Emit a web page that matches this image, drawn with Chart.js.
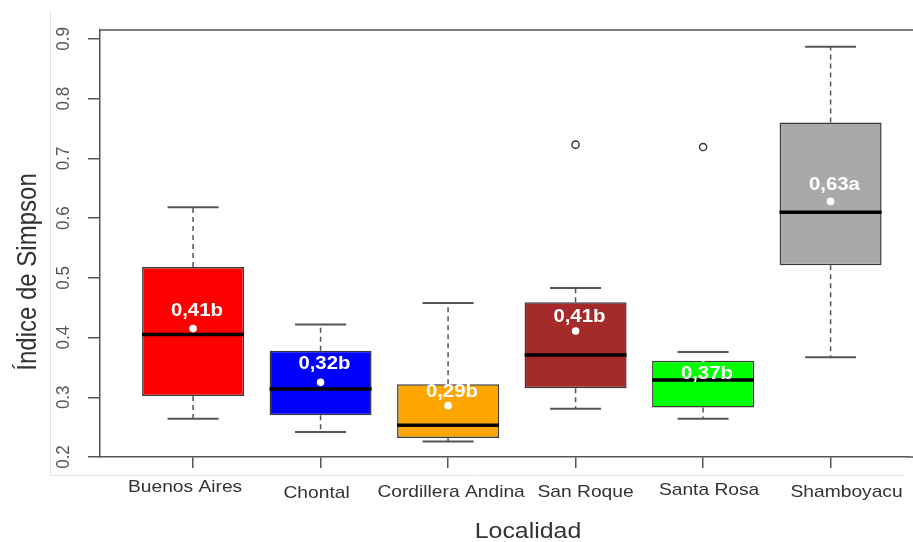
<!DOCTYPE html>
<html>
<head>
<meta charset="utf-8">
<title>Índice de Simpson por localidad</title>
<script src="https://cdn.jsdelivr.net/npm/chart.js@4/dist/chart.umd.min.js"></script>
<style>
  html, body { margin: 0; padding: 0; background: #fff; overflow: hidden; }
  #wrap { width: 913px; height: 542px; }
</style>
</head>
<body>
<div id="wrap"><canvas id="boxChart" width="913" height="542"></canvas></div>
<script>
// Categories (x axis)
const localidades = ['Buenos Aires', 'Chontal', 'Cordillera Andina', 'San Roque', 'Santa Rosa', 'Shamboyacu'];

// Box plot values
const lowerWhisker = [0.264, 0.242, 0.226, 0.281, 0.264, 0.367];
const q1           = [0.302, 0.270, 0.232, 0.315, 0.283, 0.521];
const medians      = [0.405, 0.314, 0.253, 0.371, 0.329, 0.610];
const q3           = [0.518, 0.378, 0.322, 0.459, 0.361, 0.760];
const upperWhisker = [0.618, 0.422, 0.458, 0.483, 0.376, 0.887];
const means        = [0.415, 0.325, 0.286, 0.411, 0.366, 0.628];

// Outliers (category number, value)
const outlierCat   = [4, 5];
const outlierValue = [0.723, 0.719];

// Mean labels and the level where each one sits
const meanLabels  = ['0,41b', '0,32b', '0,29b', '0,41b', '0,37b', '0,63a'];
const labelLevels = [0.444, 0.356, 0.308, 0.434, 0.339, 0.656];

const yTicks = [0.2, 0.3, 0.4, 0.5, 0.6, 0.7, 0.8, 0.9];

const boxColors = ['#ff0000', '#0000ff', '#ffa500', '#a52a2a', '#00ff00', '#a9a9a9'];

// build broken line data (a null y breaks the line)
function gap(x) { return { x: x, y: null }; }

const whiskerData = [];
const capData = [];
const medianData = [];
localidades.forEach((name, i) => {
  const c = i + 1;
  whiskerData.push({ x: c, y: q3[i] }, { x: c, y: upperWhisker[i] }, gap(c));
  whiskerData.push({ x: c, y: q1[i] }, { x: c, y: lowerWhisker[i] }, gap(c));
  capData.push({ x: c - 0.2, y: upperWhisker[i] }, { x: c + 0.2, y: upperWhisker[i] }, gap(c));
  capData.push({ x: c - 0.2, y: lowerWhisker[i] }, { x: c + 0.2, y: lowerWhisker[i] }, gap(c));
  medianData.push({ x: c - 0.4, y: medians[i] }, { x: c + 0.4, y: medians[i] }, gap(c));
});

// small helper, text in the source is a little wider than it is tall
const SX = 1.13;
function put(ctx, text, x, y, font, color, rotate) {
  ctx.save();
  ctx.translate(x, y);
  ctx.scale(SX, 1);
  if (rotate) ctx.rotate(-Math.PI / 2);
  ctx.font = font;
  ctx.fillStyle = color;
  ctx.textAlign = 'center';
  ctx.textBaseline = 'middle';
  ctx.fillText(text, 0, 0);
  ctx.restore();
}

// the category names in the source are not exactly under their ticks
const nameShiftX = [-8, -4, 3, 10, 6, 16];
const nameShiftY = [-5, 1, 0, 0, -2, 0];

const textPlugin = {
  id: 'textPlugin',
  afterDraw(chart) {
    const ctx = chart.ctx;
    const area = chart.chartArea;
    const xs = chart.scales.x;
    const ys = chart.scales.y;

    // faint frame left over from the pasted figure
    ctx.save();
    ctx.strokeStyle = '#e4e4e4';
    ctx.lineWidth = 1;
    ctx.beginPath();
    ctx.moveTo(50.5, 10);
    ctx.lineTo(50.5, 475.5);
    ctx.lineTo(905, 475.5);
    ctx.stroke();

    // top border of the plot box (runs off the right edge)
    ctx.strokeStyle = '#555';
    ctx.lineWidth = 1.5;
    ctx.beginPath();
    ctx.moveTo(area.left, area.top);
    ctx.lineTo(chart.width, area.top);
    ctx.moveTo(area.right, area.bottom);
    ctx.lineTo(chart.width, area.bottom);
    ctx.stroke();
    ctx.restore();

    // y tick labels (rotated like R does)
    yTicks.forEach(v => {
      put(ctx, v.toFixed(1), 64, ys.getPixelForValue(v), '17px "Liberation Sans", Arial, sans-serif', '#555', true);
    });

    // x tick labels
    localidades.forEach((name, i) => {
      put(ctx, name, xs.getPixelForValue(i + 1) + nameShiftX[i], 492 + nameShiftY[i], '17px "Liberation Sans", Arial, sans-serif', '#333', false);
    });

    // axis titles
    put(ctx, 'Localidad', 528, 532, '22px "Liberation Sans", Arial, sans-serif', '#333', false);
    put(ctx, 'Índice de Simpson', 29, 272, '24px "Liberation Sans", Arial, sans-serif', '#333', true);

    // mean labels
    meanLabels.forEach((t, i) => {
      put(ctx, t, xs.getPixelForValue(i + 1.03), ys.getPixelForValue(labelLevels[i]), 'bold 18px "Liberation Sans", Arial, sans-serif', '#fff', false);
    });
  }
};

const ctx = document.getElementById('boxChart').getContext('2d');
const boxChart = new Chart(ctx, {
  type: 'bar',
  data: {
    datasets: [
      {
        // boxes from Q1 to Q3
        type: 'bar',
        data: localidades.map((n, i) => ({ x: i + 1, y: [q1[i], q3[i]] })),
        backgroundColor: boxColors,
        borderColor: '#3a3a3a',
        borderWidth: 1.5,
        borderSkipped: false,
        categoryPercentage: 0.8,
        barPercentage: 1,
        order: 5
      },
      {
        // dashed whiskers
        type: 'line',
        data: whiskerData,
        borderColor: '#555',
        borderWidth: 1.5,
        borderDash: [5, 4],
        pointRadius: 0,
        spanGaps: false,
        order: 4
      },
      {
        // whisker caps
        type: 'line',
        data: capData,
        borderColor: '#555',
        borderWidth: 2,
        pointRadius: 0,
        spanGaps: false,
        order: 3
      },
      {
        // medians
        type: 'line',
        data: medianData,
        borderColor: '#000',
        borderWidth: 3.5,
        borderCapStyle: 'butt',
        pointRadius: 0,
        spanGaps: false,
        order: 2
      },
      {
        // means
        type: 'scatter',
        data: means.map((m, i) => ({ x: i + 1, y: m })),
        backgroundColor: '#fff',
        borderWidth: 0,
        pointRadius: 3.8,
        order: 1
      },
      {
        // outliers
        type: 'scatter',
        data: outlierCat.map((c, i) => ({ x: c, y: outlierValue[i] })),
        backgroundColor: '#fff',
        borderColor: '#333',
        borderWidth: 1.4,
        pointRadius: 3.6,
        order: 1
      }
    ]
  },
  options: {
    responsive: false,
    animation: false,
    events: [],
    layout: { padding: { top: 30, right: 0, left: 0, bottom: 0 } },
    plugins: {
      legend: { display: false },
      tooltip: { enabled: false }
    },
    scales: {
      x: {
        type: 'linear',
        min: 0.27,
        max: 6.604,
        offset: false,
        afterBuildTicks: s => { s.ticks = localidades.map((n, i) => ({ value: i + 1 })); },
        afterFit: s => { s.height = 85; },
        ticks: { display: false },
        grid: { drawOnChartArea: false, drawTicks: true, tickLength: 11, color: '#555', lineWidth: 1.5, offset: false },
        border: { display: true, color: '#555', width: 1.5 }
      },
      y: {
        type: 'linear',
        min: 0.2,
        max: 0.915,
        afterBuildTicks: s => { s.ticks = yTicks.map(v => ({ value: v })); },
        afterFit: s => { s.width = 100; },
        ticks: { display: false },
        grid: { drawOnChartArea: false, drawTicks: true, tickLength: 12, color: '#555', lineWidth: 1.5 },
        border: { display: true, color: '#555', width: 1.5 }
      }
    }
  },
  plugins: [textPlugin]
});
</script>
</body>
</html>
